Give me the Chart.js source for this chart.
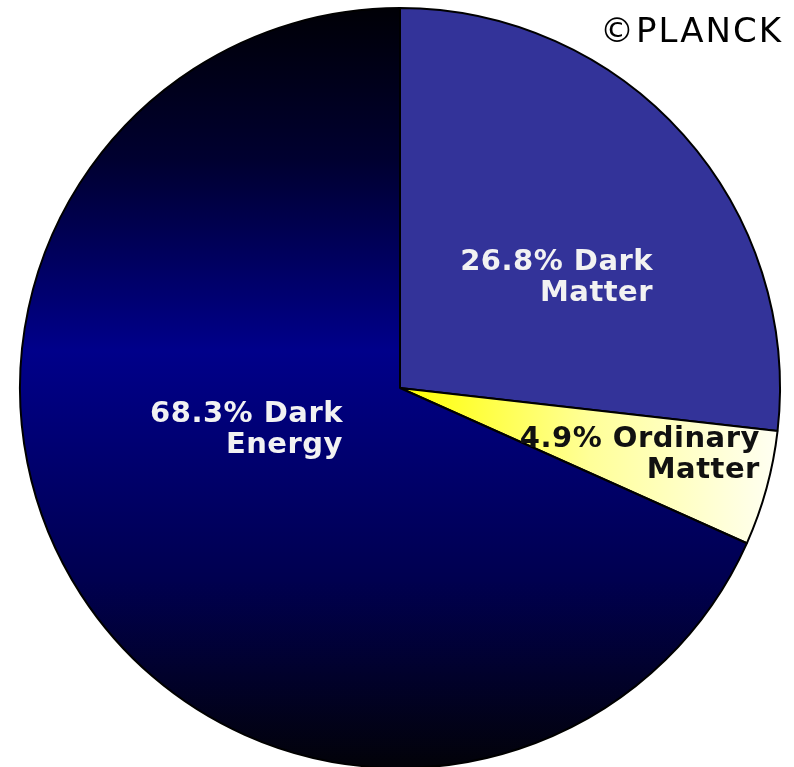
<!DOCTYPE html>
<html>
<head>
<meta charset="utf-8">
<script src="https://cdn.jsdelivr.net/npm/chart.js@4"></script>
<style>
    html, body { margin: 0; padding: 0; background: #fff; overflow: hidden; }
    #wrap { position: relative; width: 794px; height: 770px; }
</style>
</head>
<body>
<div id="wrap"><canvas id="pie"></canvas></div>
<script>
// slices, clockwise from 12 o'clock
const categories = ['Dark Matter', 'Ordinary Matter', 'Dark Energy'];
const shares = [26.8, 4.9, 68.3];
const labelLines = [
    ['26.8% Dark', 'Matter'],
    ['4.9% Ordinary', 'Matter'],
    ['68.3% Dark', 'Energy']
];

// where each label's right edge / first baseline sits, relative to pie centre (in radii)
const labelAnchors = [
    { dx: 0.666, dy: -0.311, color: '#f2f2f2' },
    { dx: 0.947, dy: 0.155, color: '#111111' },
    { dx: -0.150, dy: 0.089, color: '#f2f2f2' }
];

function sliceFill(ctx) {
    const chart = ctx.chart;
    const area = chart.chartArea;
    if (!area) return '#000';
    const c = chart.ctx;
    if (ctx.dataIndex === 0) return '#333399';
    if (ctx.dataIndex === 1) {
        const g = c.createLinearGradient(area.left + area.width / 2, 0, area.right, 0);
        g.addColorStop(0, '#ffff00');
        g.addColorStop(0.5, '#ffff99');
        g.addColorStop(1, '#fffff4');
        return g;
    }
    const g = c.createLinearGradient(0, area.top, 0, area.bottom);
    g.addColorStop(0, '#000006');
    g.addColorStop(0.2, '#000030');
    g.addColorStop(0.45, '#00008a');
    g.addColorStop(0.75, '#000050');
    g.addColorStop(1, '#020208');
    return g;
}

const pieLabels = {
    id: 'pieLabels',
    afterDatasetsDraw(chart) {
        const c = chart.ctx;
        const arc = chart.getDatasetMeta(0).data[0];
        const cx = arc.x, cy = arc.y, r = arc.outerRadius;
        c.save();
        c.font = 'bold 29px "DejaVu Sans"';
        c.letterSpacing = '0.5px';
        c.textAlign = 'right';
        c.textBaseline = 'alphabetic';
        labelLines.forEach((lines, i) => {
            const a = labelAnchors[i];
            c.fillStyle = a.color;
            lines.forEach((t, j) => {
                c.fillText(t, cx + a.dx * r, cy + a.dy * r + j * 31);
            });
        });
        // credit
        c.font = '34px "DejaVu Sans"';
        c.letterSpacing = '2px';
        c.fillStyle = '#000';
        c.fillText('\u00A9PLANCK', 783, 42);
        c.restore();
    }
};

new Chart(document.getElementById('pie'), {
    type: 'pie',
    data: {
        labels: categories,
        datasets: [{
            data: shares,
            backgroundColor: sliceFill,
            borderColor: '#000',
            borderWidth: 2,
            hoverOffset: 0
        }]
    },
    options: {
        responsive: true,
        maintainAspectRatio: false,
        animation: false,
        layout: { padding: { left: 19, right: 13, top: 7, bottom: 1 } },
        plugins: {
            legend: { display: false },
            tooltip: { enabled: false }
        }
    },
    plugins: [pieLabels]
});
</script>
</body>
</html>
